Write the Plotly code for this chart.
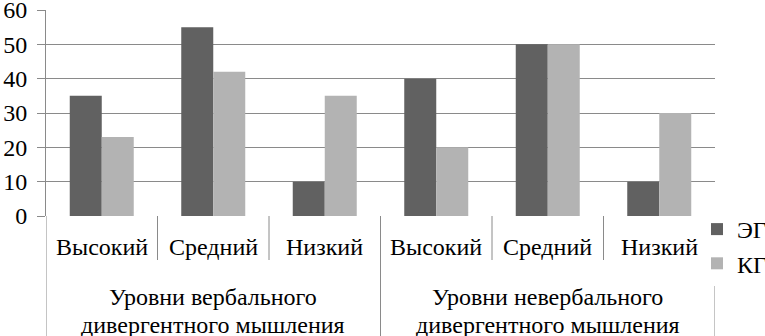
import plotly.graph_objects as go

groups = ["Уровни вербального|дивергентного мышления", "Уровни невербального|дивергентного мышления"]
levels = ["Высокий", "Средний", "Низкий"]
eg = [35, 55, 10, 40, 50, 10]
kg = [23, 42, 35, 20, 50, 30]
yticks = [0, 10, 20, 30, 40, 50, 60]

n_lev = len(levels)
n_cat = n_lev * len(groups)
xs = list(range(n_cat))
inner = levels * len(groups)

FONT = dict(family="Liberation Serif", size=24, color="black")
LINE_C = "#8a8a8a"
W, H = 765, 336
ML, MR, MT, MB = 46, 50, 10, 120
PH = H - MT - MB

fig = go.Figure()
fig.add_trace(go.Bar(x=xs, y=eg, name="ЭГ", legendgroup="a",
                     marker=dict(color="#616161", line=dict(width=0))))
fig.add_trace(go.Bar(x=xs, y=kg, name="КГ", legendgroup="b",
                     marker=dict(color="#b3b3b3", line=dict(width=0))))

shapes = []
# inner dividers between levels
for g in range(len(groups)):
    for k in range(1, n_lev):
        xb = g * n_lev + k - 0.5
        shapes.append(dict(type="line", xref="x", yref="paper", x0=xb, x1=xb,
                           y0=0, y1=-44 / PH, line=dict(color=LINE_C, width=1)))
# group dividers (including outer edges)
for g in range(len(groups) + 1):
    xb = g * n_lev - 0.5
    shapes.append(dict(type="line", xref="x", yref="paper", x0=xb, x1=xb,
                       y0=0, y1=-MB / PH - 0.05, line=dict(color=LINE_C, width=1)))

annotations = []
for i, lab in enumerate(inner):
    annotations.append(dict(text=lab, x=i, xref="x", y=0, yref="paper",
                            yanchor="middle", yshift=-31, showarrow=False, font=FONT))
for g, lab in enumerate(groups):
    cx = g * n_lev + (n_lev - 1) / 2
    for j, line in enumerate(lab.split("|")):
        annotations.append(dict(text=line, x=cx, xref="x", y=0, yref="paper",
                                yanchor="middle", yshift=-81 - 28 * j, showarrow=False, font=FONT))

fig.update_layout(
    width=W, height=H,
    margin=dict(l=ML, r=MR, t=MT, b=MB, autoexpand=False),
    plot_bgcolor="white", paper_bgcolor="white",
    font=FONT,
    barmode="group", bargap=0.426, bargroupgap=0,
    shapes=shapes, annotations=annotations,
    legend=dict(xref="container", yref="container", x=697 / W, y=1 - 207 / H,
                xanchor="left", yanchor="top", font=FONT, tracegroupgap=8,
                traceorder="normal"),
)
fig.update_xaxes(range=[-0.5, n_cat - 0.5], showticklabels=False, showgrid=False,
                 zeroline=False, showline=False, ticks="", automargin=False)
fig.update_yaxes(
    range=[0, 60], tickvals=yticks, showgrid=True, gridcolor=LINE_C, gridwidth=1,
    showline=True, linecolor=LINE_C, linewidth=1, ticks="outside", ticklen=8, tickcolor=LINE_C,
    zeroline=False, tickfont=FONT, automargin=False, ticklabelstandoff=5,
    ticklabeloverflow="allow",
)
fig.write_html(
    "out.html",
    config={"displayModeBar": False},
    post_script="document.body.style.margin='0';document.body.style.overflow='hidden';",
)
